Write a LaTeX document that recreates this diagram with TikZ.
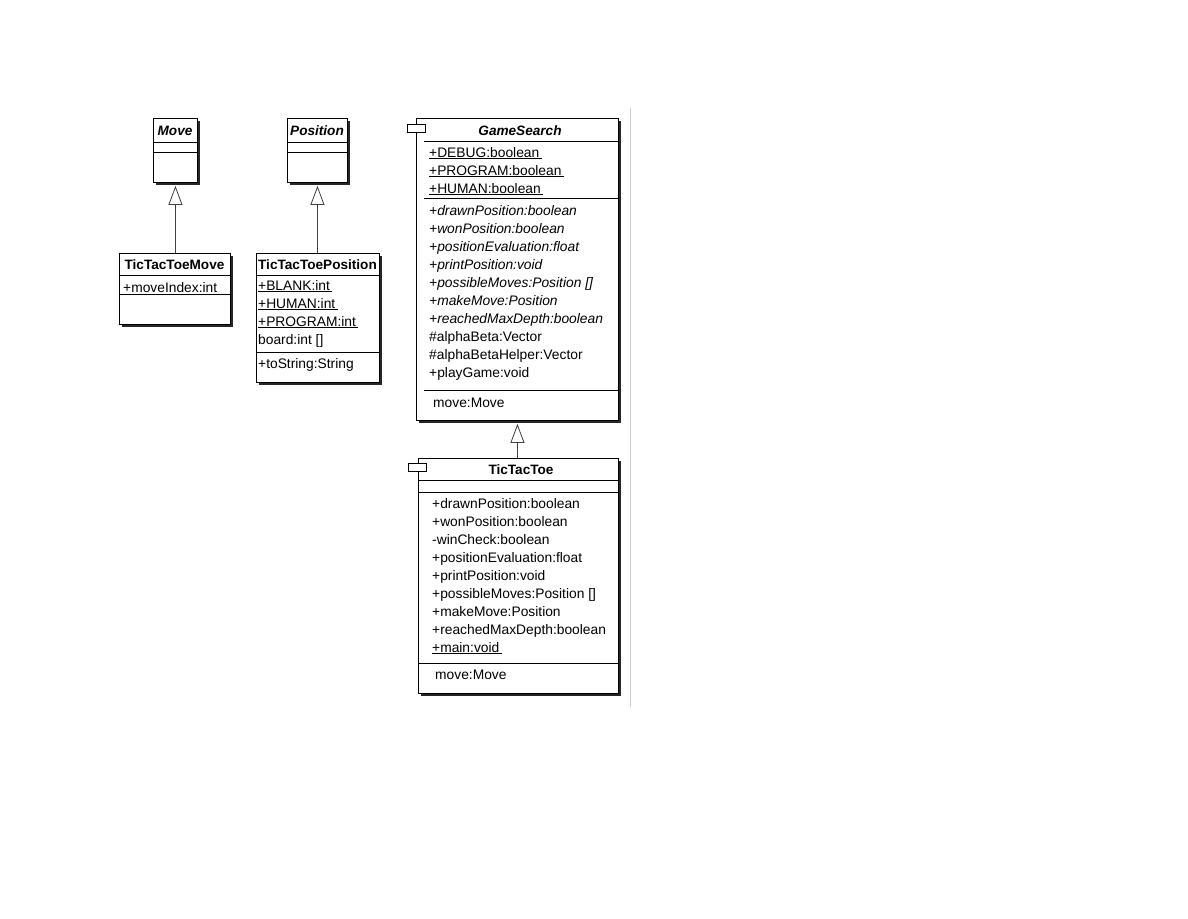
\documentclass[tikz,border=0pt]{standalone}
\usepackage{fontspec}
\setmainfont{Liberation Sans}
\usetikzlibrary{positioning,arrows.meta,shadows}

\begin{document}
\begin{tikzpicture}[x=1pt, y=-1pt, font=\fontsize{13.8}{16}\selectfont,
  cls/.style={draw=black, fill=white, line width=0.9pt, anchor=north west, inner sep=0pt,
    drop shadow={shadow xshift=3pt, shadow yshift=-3pt, opacity=1, fill=black!85}},
  ttl/.style={anchor=base, inner sep=0pt, yshift=-5pt, font=\fontsize{13.6}{16}\selectfont\bfseries},
  row/.style={anchor=base west, inner sep=0pt, yshift=-5pt},
  sep/.style={line width=0.8pt},
  icon/.style={draw=black, fill=white, line width=0.8pt},
  inherit/.style={draw=black!75, line width=0.8pt, shorten >=3pt,
    -{Triangle[open, length=19pt, width=14pt]}}]
  \useasboundingbox (0,0) rectangle (1188,918);
  \draw[black!20, line width=0.8pt] (630,108) -- (630,707);

  % Move / TicTacToeMove
  \node[cls, minimum width=44pt, minimum height=64pt] (move) at (153,118) {};
  \node[ttl, font=\fontsize{13.6}{16}\selectfont\bfseries\itshape] (move-t) at (175,130) {Move};
  \draw[sep] (153,142) -- (197,142);
  \draw[sep] (153,152) -- (197,152);
  \node[cls, minimum width=111pt, minimum height=71pt] (tttmove) at (119,253) {};
  \node[ttl] (tttmove-t) at (174.5,264) {TicTacToeMove};
  \draw[sep] (119,275) -- (230,275);
  \node[row] (tttmove-a) at (123,287) {+moveIndex:int};
  \draw[sep] (119,294) -- (230,294);
  \draw[inherit] (tttmove.north -| move.south) -- (move.south);

  % Position / TicTacToePosition
  \node[cls, minimum width=60pt, minimum height=64pt] (pos) at (287,118) {};
  \node[ttl, font=\fontsize{13.6}{16}\selectfont\bfseries\itshape] (pos-t) at (317,130) {Position};
  \draw[sep] (287,142) -- (347,142);
  \draw[sep] (287,152) -- (347,152);
  \node[cls, minimum width=123pt, minimum height=129pt] (tttpos) at (256,253) {};
  \node[ttl] (tttpos-t) at (317.5,264) {TicTacToePosition};
  \draw[sep] (256,275) -- (379,275);
  \foreach \t [count=\i from 0] in {BLANK:int, HUMAN:int, PROGRAM:int}
    \node[row] (tttpos-a\i) at (258,{285+18*\i}) {\underline{+\t\,}};
  \node[row] (tttpos-a3) at (258,339) {board:int []};
  \draw[sep] (256,352) -- (379,352);
  \node[row] (tttpos-o) at (258,363) {+toString:String};
  \draw[inherit] (tttpos.north -| pos.south) -- (pos.south);

  % GameSearch
  \node[cls, minimum width=202pt, minimum height=302pt] (gs) at (416,118) {};
  \draw[icon] (407,124) rectangle (425,132);
  \node[ttl, font=\fontsize{13.6}{16}\selectfont\bfseries\itshape] (gs-t) at (520,130) {GameSearch};
  \draw[sep] (424,141) -- (618,141);
  \foreach \t [count=\i from 0] in {DEBUG, PROGRAM, HUMAN}
    \node[row] (gs-a\i) at (429,{152+18*\i}) {\underline{+\t:boolean\,}};
  \draw[sep] (424,198) -- (618,198);
  \foreach \t [count=\i from 0] in {drawnPosition:boolean, wonPosition:boolean,
      positionEvaluation:float, printPosition:void, {possibleMoves:Position []},
      makeMove:Position, reachedMaxDepth:boolean}
    \node[row, font=\fontsize{13.8}{16}\selectfont\itshape] (gs-o\i) at (429,{210+18*\i}) {+\t};
  \foreach \t [count=\i from 7] in {\#alphaBeta:Vector, \#alphaBetaHelper:Vector, +playGame:void}
    \node[row] (gs-o\i) at (429,{210+18*\i}) {\t};
  \draw[sep] (424,390) -- (618,390);
  \node[row] (gs-m) at (433,402) {move:Move};

  % TicTacToe
  \node[cls, minimum width=200pt, minimum height=235pt] (ttt) at (418,458) {};
  \draw[icon] (408,463) rectangle (426,471);
  \node[ttl] (ttt-t) at (521,469) {TicTacToe};
  \draw[sep] (418,480) -- (618,480);
  \draw[sep] (418,492) -- (618,492);
  \foreach \t [count=\i from 0] in {+drawnPosition:boolean, +wonPosition:boolean,
      -winCheck:boolean, +positionEvaluation:float, +printPosition:void,
      {+possibleMoves:Position []}, +makeMove:Position, +reachedMaxDepth:boolean,
      \underline{+main:void\,}}
    \node[row] (ttt-o\i) at (432,{503+18*\i}) {\t};
  \draw[sep] (418,663) -- (618,663);
  \node[row] (ttt-m) at (435,674) {move:Move};
  \draw[inherit] (ttt.north -| gs.south) -- (gs.south);
\end{tikzpicture}
\end{document}
